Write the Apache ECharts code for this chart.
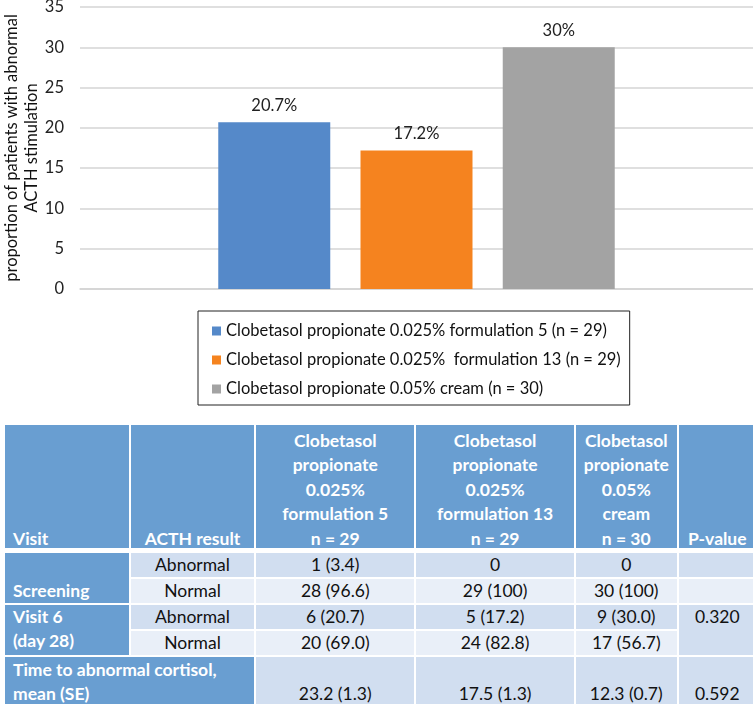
<!DOCTYPE html>
<html>
<head>
<meta charset="utf-8">
<script src="https://cdn.jsdelivr.net/npm/echarts@6/dist/echarts.min.js"></script>
<style>
    body { margin: 0; width: 753px; height: 704px; overflow: hidden; background: #fff; font-family: Lato, sans-serif; }
    #chart { position: absolute; left: 0; top: 0; width: 753px; height: 416px; }
    #tbl { position: absolute; left: 3px; top: 423px; border-collapse: separate; border-spacing: 2px; table-layout: fixed; width: 755px; font-size: 17.5px; color: #111; }
    #tbl td, #tbl th { padding: 0; overflow: hidden; white-space: nowrap; }
    #tbl th { background: #699ed1; color: #fff; font-weight: bold; line-height: 24.5px; vertical-align: bottom; }
    #tbl th div { position: relative; top: 3px; }
    #tbl td { text-align: center; line-height: 24px; }
    #tbl .dark { background: #699ed1; color: #fff; font-weight: bold; text-align: left; padding-left: 8px; }
    #tbl .ab { background: #d1def0; }
    #tbl .no { background: #e9eff8; }
</style>
</head>
<body>
<div id="chart"></div>
<table id="tbl"></table>
<script>
    // 图表数据
    var seriesNames = [
        'Clobetasol propionate 0.025% formulation 5 (n = 29)',
        'Clobetasol propionate 0.025%  formulation 13 (n = 29)',
        'Clobetasol propionate 0.05% cream (n = 30)'
    ];
    var seriesValues = [20.7, 17.2, 30];
    var seriesColors = ['#5589c9', '#f5831f', '#a3a3a3'];
    var yTicks = [0, 5, 10, 15, 20, 25, 30, 35];

    // 表格数据
    var headLabels = ['Visit', 'ACTH result',
        'Clobetasol<br>propionate<br>0.025%<br>formulation 5<br>n = 29',
        'Clobetasol<br>propionate<br>0.025%<br>formulation 13<br>n = 29',
        'Clobetasol<br>propionate<br>0.05%<br>cream<br>n = 30',
        'P-value'];
    var visits = ['Screening', 'Visit 6<br>(day 28)'];
    var acthResults = ['Abnormal', 'Normal', 'Abnormal', 'Normal'];
    var form5 = ['1 (3.4)', '28 (96.6)', '6 (20.7)', '20 (69.0)'];
    var form13 = ['0', '29 (100)', '5 (17.2)', '24 (82.8)'];
    var cream = ['0', '30 (100)', '9 (30.0)', '17 (56.7)'];
    var pValues = ['', '', '0.320'];
    var timeLabel = 'Time to abnormal cortisol,<br>mean (SE)';
    var timeValues = ['23.2 (1.3)', '17.5 (1.3)', '12.3 (0.7)', '0.592'];

    var font = 'Lato';
    var fs = 16.5;
    var myChart = echarts.init(document.getElementById('chart'));

    var series = [];
    for (var i = 0; i < seriesNames.length; i++) {
        series.push({
            name: seriesNames[i],
            type: 'bar',
            barWidth: 112,
            barGap: '27%',
            itemStyle: { color: seriesColors[i] },
            label: {
                show: true,
                position: 'top',
                distance: 8,
                fontFamily: font,
                fontSize: fs,
                color: '#222',
                formatter: function (p) { return p.value + '%'; }
            },
            data: [seriesValues[i]]
        });
    }

    var option = {
        animation: false,
        grid: { left: 80, right: 0, top: 7, height: 282, outerBoundsMode: 'none' },
        legend: {
            orient: 'vertical',
            left: 198,
            top: 311,
            padding: [11, 9, 7, 14],
            borderColor: '#222',
            borderWidth: 1,
            itemWidth: 9,
            itemHeight: 9,
            itemGap: 11,
            icon: 'rect',
            textStyle: { fontFamily: font, fontSize: fs, color: '#111', lineHeight: 18 },
            data: seriesNames
        },
        xAxis: {
            type: 'category',
            data: [''],
            axisTick: { show: false },
            axisLabel: { show: false },
            axisLine: { lineStyle: { color: '#d4d4d4', width: 1.5 } }
        },
        yAxis: {
            type: 'value',
            min: yTicks[0],
            max: yTicks[yTicks.length - 1],
            interval: 5,
            name: 'proportion of patients with abnormal\nACTH stimulation',
            nameLocation: 'middle',
            nameRotate: 90,
            nameGap: 38,
            nameMoveOverlap: false,
            nameTextStyle: { fontFamily: font, fontSize: fs, color: '#111', lineHeight: 20 },
            axisLine: { show: false },
            axisTick: { show: false },
            axisLabel: { fontFamily: font, fontSize: fs, color: '#222', margin: 16 },
            splitLine: { lineStyle: { color: '#d4d4d4', width: 1.5 } }
        },
        series: series
    };
    myChart.setOption(option);

    // 表格
    var html = '<colgroup><col style="width:123px"><col style="width:123px"><col style="width:157px">' +
        '<col style="width:157px"><col style="width:100px"><col style="width:77px"></colgroup>';
    html += '<tr style="height:123px">';
    for (var h = 0; h < headLabels.length; h++) {
        var al = h === 0 ? 'left;padding-left:8px' : 'center';
        html += '<th style="text-align:' + al + '"><div>' + headLabels[h] + '</div></th>';
    }
    html += '</tr><tr style="height:1px"><td colspan="6" style="background:#fff"></td></tr>';
    var rowH = [23, 24, 22, 24];
    for (var r = 0; r < acthResults.length; r++) {
        var cls = r % 2 === 0 ? 'ab' : 'no';
        html += '<tr style="height:' + rowH[r] + 'px">';
        if (r === 0) html += '<td rowspan="2" class="dark" style="vertical-align:bottom">' + visits[0] + '</td>';
        if (r === 2) html += '<td rowspan="2" class="dark" style="vertical-align:top">' + visits[1] + '</td>';
        html += '<td class="' + cls + '">' + acthResults[r] + '</td>';
        html += '<td class="' + cls + '">' + form5[r] + '</td>';
        html += '<td class="' + cls + '">' + form13[r] + '</td>';
        html += '<td class="' + cls + '">' + cream[r] + '</td>';
        if (r < 2) html += '<td class="' + cls + '">' + pValues[r] + '</td>';
        if (r === 2) html += '<td rowspan="2" class="ab" style="vertical-align:top">' + pValues[2] + '</td>';
        html += '</tr>';
    }
    html += '<tr style="height:49px"><td colspan="2" class="dark" style="vertical-align:bottom">' + timeLabel + '</td>';
    for (var t = 0; t < timeValues.length; t++) {
        html += '<td class="ab" style="vertical-align:bottom">' + timeValues[t] + '</td>';
    }
    html += '</tr>';
    document.getElementById('tbl').innerHTML = html;
</script>
</body>
</html>
